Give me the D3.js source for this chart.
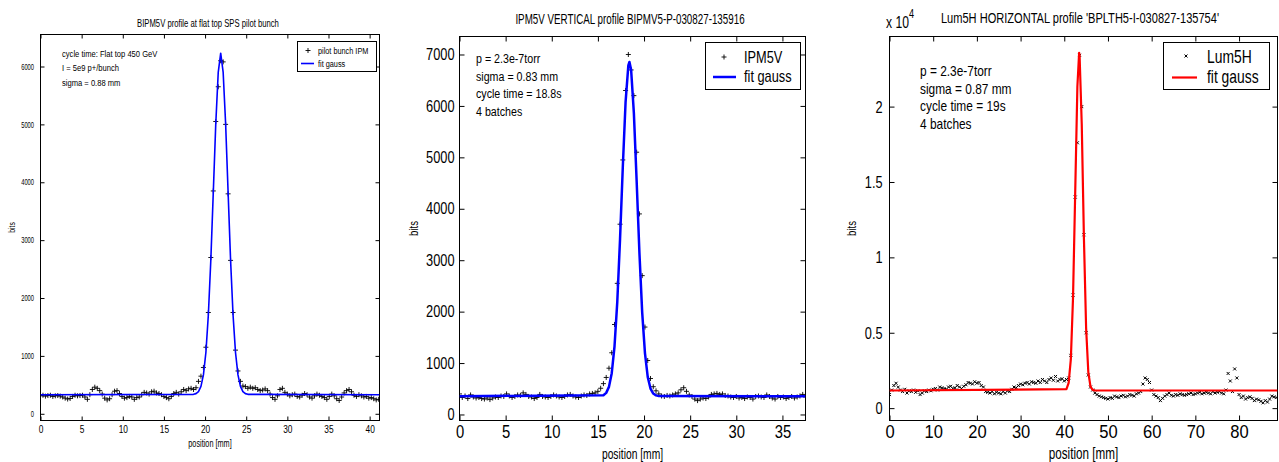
<!DOCTYPE html>
<html>
<head>
<meta charset="utf-8">
<script src="https://cdn.jsdelivr.net/npm/d3@7"></script>
<style>
  html, body { margin: 0; padding: 0; background: #fff; }
  svg { display: block; }
  text { font-family: "Liberation Sans", Arial, sans-serif; fill: #000; }
</style>
</head>
<body>
<svg id="chart" width="1279" height="462"></svg>
<script>
// ---------------- DATA ----------------
// Panel 1: BIPM5V pilot bunch (sample spacing 0.3 mm, starting at 0 mm)
const p1Step = 0.3;
const p1Values = [
  310,320,305,315,320,300,310,315,305,290,270,255,265,300,320,310,315,320,290,250,
  330,420,460,440,400,340,270,240,260,330,390,400,350,300,270,280,300,290,250,280,
  290,330,370,360,340,380,390,360,350,330,300,280,260,300,350,370,340,380,420,400,
  430,440,420,450,560,650,800,1150,1750,2700,3850,5050,5650,6100,6080,5000,3800,2650,1750,1100,
  740,560,480,470,440,460,440,450,420,400,410,430,400,340,280,250,310,420,440,370,
  340,310,330,340,300,290,320,350,330,290,270,310,340,320,300,280,250,300,340,310,
  260,230,290,360,400,420,380,320,300,330,310,290,300,270,280,260,240,250
];
const p1FitX = [0,18.6,18.9,19.2,19.5,19.8,20.1,20.4,20.7,21.0,21.3,21.6,21.9,22.2,22.5,22.8,23.1,23.4,23.7,24.0,24.3,24.6,24.9,25.2,41.2];
const p1FitY = [330,336,348,383,473,672,1059,1710,2658,3827,5006,5897,6230,5897,5006,3827,2658,1710,1059,672,473,383,348,336,330];
const p1XTicks = [0,5,10,15,20,25,30,35,40];
const p1YTicks = [0,1000,2000,3000,4000,5000,6000];
const p1Text = ["cycle time: Flat top 450 GeV", "I = 5e9 p+/bunch", "sigma = 0.88 mm"];
const p1Legend = ["pilot bunch IPM", "fit gauss"];

// Panel 2: IPM5V vertical (sample spacing 0.3 mm)
const p2Step = 0.3;
const p2Values = [
  400,330,360,310,380,340,320,330,310,300,320,290,320,340,330,360,350,400,360,330,
  350,380,370,420,390,350,340,310,330,390,350,340,330,350,380,360,340,330,350,380,
  390,360,340,330,360,380,370,400,410,420,450,510,600,720,900,1200,1750,2550,3700,4950,
  6300,7000,6700,6200,5100,3900,2700,1700,1050,700,540,460,400,360,350,370,360,380,400,420,
  480,520,450,380,350,300,270,300,320,310,340,390,400,410,390,400,370,360,340,330,
  350,320,330,310,340,330,300,350,360,340,330,380,350,320,300,350,330,340,310,330,
  350,320,340,360,390,340
];
const p2FitX = [0,15.6,15.9,16.2,16.5,16.8,17.1,17.4,17.7,18.0,18.3,18.42,18.6,18.9,19.2,19.5,19.8,20.1,20.4,20.7,21.0,21.3,21.6,37.5];
const p2FitY = [355,375,420,537,803,1322,2191,3410,4818,6075,6787,6855,6704,5855,4534,3144,1985,1194,732,504,407,371,357,355];
const p2XTicks = [0,5,10,15,20,25,30,35];
const p2YTicks = [0,1000,2000,3000,4000,5000,6000,7000];
const p2Text = ["p = 2.3e-7torr", "sigma =  0.83 mm", "cycle time = 18.8s", "4 batches"];
const p2Legend = ["IPM5V", "fit gauss"];

// Panel 3: Lum5H horizontal (sample spacing 0.5 mm)
const p3Step = 0.5;
const p3Values = [
  900,1200,1500,1650,1400,1200,1100,1250,1000,1150,1100,1200,1050,1150,900,1000,1150,1100,1200,1150,
  1250,1300,1200,1400,1350,1300,1250,1400,1450,1300,1350,1500,1400,1300,1450,1550,1700,1650,1600,1750,
  1650,1700,1500,1400,1100,1050,1000,1100,950,1050,1000,950,1100,1000,1150,1100,1250,1400,1350,1500,
  1600,1550,1650,1700,1600,1750,1700,1650,1800,1700,1900,1800,1700,1900,2000,1850,2100,1800,1900,1950,
  1800,1900,2000,3500,7500,14000,17600,23400,20000,11500,5000,2200,1400,1200,1000,900,800,750,700,650,
  600,700,650,800,750,700,800,850,750,800,900,850,800,950,1000,1100,1600,2000,1900,1700,
  1200,900,800,700,500,650,800,900,1000,850,800,900,850,950,900,850,900,950,1000,900,
  950,1000,1050,950,1000,1050,1000,950,1100,1000,1050,1100,1000,950,1200,2300,1800,1100,2600,2000,
  900,700,800,600,700,750,650,500,600,550,450,350,500,400,600,800,750,700
];
const p3FitX = [0,40.5,41.0,41.5,42.0,42.5,43.0,43.4,43.5,44.0,44.5,45.0,45.5,46.0,46.5,47.0,88.8];
const p3FitY = [1170,1256,1670,3230,7300,14290,21330,23570,23420,18820,11240,5300,2390,1430,1210,1174,1170];
const p3XTicks = [0,10,20,30,40,50,60,70,80];
const p3YTicks = [0,5000,10000,15000,20000];
const p3Text = ["p = 2.3e-7torr", "sigma =  0.87 mm", "cycle time = 19s", "4 batches"];
const p3Legend = ["Lum5H", "fit gauss"];

// ---------------- DRAW ----------------
const svg = d3.select("#chart");
svg.append("rect").attr("width", 1279).attr("height", 462).attr("fill", "#fff");

// horizontally condensed text (keeps the anchor point fixed)
function txt(parent, x, y, str, size, s, anchor) {
  return parent.append("text").attr("x", x).attr("y", y)
    .attr("text-anchor", anchor || "start")
    .attr("transform", `translate(${x * (1 - s)},0) scale(${s},1)`)
    .style("font-size", size + "px").text(str);
}
function squeeze(sel, s) {
  sel.each(function () {
    const t = d3.select(this);
    const x = +t.attr("x") || 0;
    t.attr("transform", `translate(${x * (1 - s)},0) scale(${s},1)`);
  });
}

function drawPanel(cfg) {
  const g = svg.append("g");
  const x = d3.scaleLinear().domain(cfg.xDomain).range([cfg.left, cfg.right]);
  const y = d3.scaleLinear().domain(cfg.yDomain).range([cfg.bottom, cfg.top]);
  const tl = cfg.tickLen;

  const fmtY = cfg.yFormat || (d => d);
  const ax = [
    { a: d3.axisBottom(x).tickValues(cfg.xTicks).tickSize(-tl).tickPadding(cfg.xPad), t: `translate(0,${cfg.bottom})`, fs: cfg.xTickFont, s: cfg.xTickS },
    { a: d3.axisTop(x).tickValues(cfg.xTicks).tickSize(-tl).tickFormat(""), t: `translate(0,${cfg.top})` },
    { a: d3.axisLeft(y).tickValues(cfg.yTicks).tickSize(-tl).tickPadding(cfg.yPad).tickFormat(fmtY), t: `translate(${cfg.left},0)`, fs: cfg.yTickFont, s: cfg.yTickS },
    { a: d3.axisRight(y).tickValues(cfg.yTicks).tickSize(-tl).tickFormat(""), t: `translate(${cfg.right},0)` }
  ];
  ax.forEach(o => {
    const ag = g.append("g").attr("transform", o.t).call(o.a);
    ag.select(".domain").remove();
    ag.selectAll("line").attr("stroke", "#000").attr("stroke-width", 1);
    const ts = ag.selectAll("text").attr("font-family", null).style("font-size", (o.fs || 10) + "px").attr("fill", "#000");
    if (o.s) squeeze(ts, o.s);
  });

  g.append("rect").attr("x", cfg.left).attr("y", cfg.top)
    .attr("width", cfg.right - cfg.left).attr("height", cfg.bottom - cfg.top)
    .attr("fill", "none").attr("stroke", "#000").attr("stroke-width", 1);

  const clipId = "clip" + cfg.id;
  svg.append("clipPath").attr("id", clipId).append("rect")
    .attr("x", cfg.left).attr("y", cfg.top).attr("width", cfg.right - cfg.left).attr("height", cfg.bottom - cfg.top);
  const plot = g.append("g").attr("clip-path", `url(#${clipId})`);

  const pts = cfg.values.map((v, i) => [i * cfg.step, v]);
  const m = cfg.markerSize;
  const markerPath = cfg.marker === "x"
    ? `M${-m},${-m}L${m},${m}M${-m},${m}L${m},${-m}`
    : `M${-m},0H${m}M0,${-m}V${m}`;
  plot.append("g").selectAll("path").data(pts).join("path")
    .attr("transform", d => `translate(${x(d[0])},${y(d[1])})`)
    .attr("d", markerPath).attr("stroke", cfg.markerColor).attr("stroke-width", cfg.markerWidth).attr("fill", "none");

  const line = d3.line().x(d => x(d[0])).y(d => y(d[1]));
  const fit = cfg.fitX.map((xv, i) => [xv, cfg.fitY[i]]);
  plot.append("path").datum(fit).attr("d", line)
    .attr("fill", "none").attr("stroke", cfg.fitColor).attr("stroke-width", cfg.fitWidth).attr("stroke-linejoin", "round");

  txt(g, cfg.titleX, cfg.titleY, cfg.title, cfg.titleFont, cfg.titleS, "middle");
  txt(g, (cfg.left + cfg.right) / 2, cfg.xLabelY, "position [mm]", cfg.xLabelFont, cfg.xLabelS, "middle");
  g.append("text").attr("transform", `translate(${cfg.yLabelX},${(cfg.top + cfg.bottom) / 2}) rotate(-90) scale(${cfg.yLabelS},1)`)
    .attr("text-anchor", "middle").style("font-size", cfg.yLabelFont + "px").text("bits");

  cfg.text.forEach((t, i) => txt(g, cfg.textX, cfg.textY + i * cfg.textDy, t, cfg.textFont, cfg.textS));

  const L = cfg.legend;
  g.append("rect").attr("x", L.x0).attr("y", L.y0).attr("width", L.x1 - L.x0).attr("height", L.y1 - L.y0)
    .attr("fill", "#fff").attr("stroke", "#000").attr("stroke-width", 1);
  g.append("path").attr("transform", `translate(${L.mx},${L.my})`).attr("d", markerPath)
    .attr("stroke", cfg.markerColor).attr("stroke-width", cfg.markerWidth);
  g.append("line").attr("x1", L.lx0).attr("x2", L.lx1).attr("y1", L.ly).attr("y2", L.ly)
    .attr("stroke", cfg.fitColor).attr("stroke-width", cfg.fitWidth);
  cfg.legendLabels.forEach((t, i) => txt(g, L.tx, L.ty[i], t, L.font, L.s));
  return { x, y, g };
}

drawPanel({
  id: 1, left: 40.5, right: 379.5, top: 34.5, bottom: 420.5,
  xDomain: [0, 41.2], yDomain: [-116, 6553], xTicks: p1XTicks, yTicks: p1YTicks,
  tickLen: 4, xPad: 4.5, yPad: 6.5, xTickFont: 11, xTickS: 0.76, yTickFont: 8.5, yTickS: 0.68,
  step: p1Step, values: p1Values, marker: "+", markerSize: 2.5, markerWidth: 0.9, markerColor: "#000",
  fitX: p1FitX, fitY: p1FitY, fitColor: "#0000ff", fitWidth: 1.6,
  title: "BIPM5V profile at flat top SPS pilot bunch", titleX: 208, titleY: 27, titleFont: 10, titleS: 0.77,
  xLabelY: 447, xLabelFont: 10, xLabelS: 0.73, yLabelX: 15, yLabelFont: 8.5, yLabelS: 0.8,
  text: p1Text, textX: 62, textY: 57, textDy: 14.5, textFont: 9.5, textS: 0.8,
  legendLabels: p1Legend,
  legend: { x0: 297.5, y0: 41.5, x1: 376.5, y1: 71.5, mx: 308, my: 50.5, lx0: 301, lx1: 314, ly: 63.5, tx: 318, ty: [54, 67], font: 9.5, s: 0.77 }
});

drawPanel({
  id: 2, left: 459.5, right: 805.5, top: 36.5, bottom: 420.5,
  xDomain: [0, 37.5], yDomain: [-117, 7350], xTicks: p2XTicks, yTicks: p2YTicks,
  tickLen: 5, xPad: 4.5, yPad: 5, xTickFont: 19, xTickS: 0.78, yTickFont: 16, yTickS: 0.8,
  step: p2Step, values: p2Values, marker: "+", markerSize: 2.5, markerWidth: 0.9, markerColor: "#000",
  fitX: p2FitX, fitY: p2FitY, fitColor: "#0000ff", fitWidth: 2.5,
  title: "IPM5V VERTICAL profile BIPMV5-P-030827-135916", titleX: 630, titleY: 24, titleFont: 14, titleS: 0.7,
  xLabelY: 459, xLabelFont: 14.5, xLabelS: 0.71, yLabelX: 418, yLabelFont: 12, yLabelS: 0.8,
  text: p2Text, textX: 476, textY: 63, textDy: 17.7, textFont: 13.5, textS: 0.79,
  legendLabels: p2Legend,
  legend: { x0: 705.5, y0: 42.5, x1: 800.5, y1: 89.5, mx: 724, my: 57, lx0: 713, lx1: 736, ly: 77, tx: 744, ty: [63, 82], font: 16, s: 0.8 }
});

drawPanel({
  id: 3, left: 889.5, right: 1277.5, top: 36.5, bottom: 420.5,
  xDomain: [0, 88.8], yDomain: [-820, 24650], xTicks: p3XTicks, yTicks: p3YTicks,
  yFormat: d => d3.format("~g")(d / 10000),
  tickLen: 5, xPad: 5, yPad: 7, xTickFont: 18, xTickS: 0.92, yTickFont: 17, yTickS: 0.75,
  step: p3Step, values: p3Values, marker: "x", markerSize: 1.5, markerWidth: 1, markerColor: "#000",
  fitX: p3FitX, fitY: p3FitY, fitColor: "#ff0000", fitWidth: 2.2,
  title: "Lum5H HORIZONTAL profile 'BPLTH5-I-030827-135754'", titleX: 1080, titleY: 23, titleFont: 14, titleS: 0.79,
  xLabelY: 459, xLabelFont: 16, xLabelS: 0.73, yLabelX: 856, yLabelFont: 12, yLabelS: 0.8,
  text: p3Text, textX: 920, textY: 76, textDy: 17.7, textFont: 14, textS: 0.85,
  legendLabels: p3Legend,
  legend: { x0: 1163.5, y0: 42.5, x1: 1269.5, y1: 89.5, mx: 1186, my: 56, lx0: 1172, lx1: 1197, ly: 77.5, tx: 1207, ty: [63, 83], font: 18, s: 0.77 }
});

// exponent label for panel 3
const ex0 = 886;
const expo = svg.append("text").attr("x", ex0).attr("y", 28)
  .attr("transform", `translate(${ex0 * (1 - 0.76)},0) scale(0.76,1)`).style("font-size", "16px");
expo.append("tspan").text("x 10");
expo.append("tspan").attr("dy", -10).style("font-size", "12px").text("4");
</script>
</body>
</html>
